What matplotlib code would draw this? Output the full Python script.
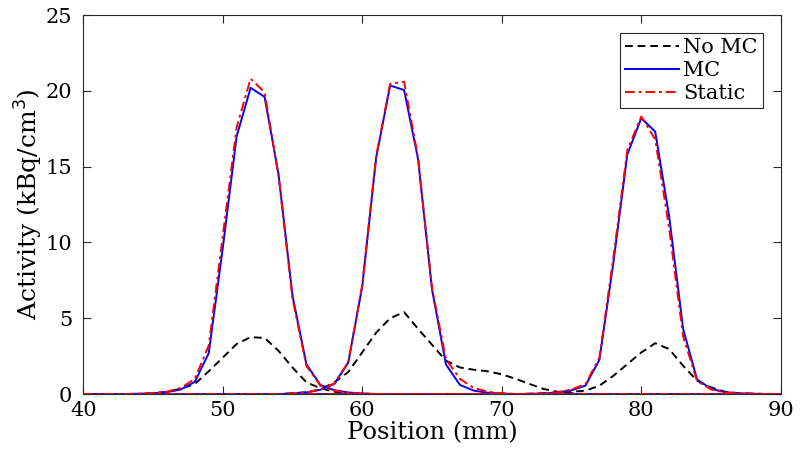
import numpy as np
import matplotlib
matplotlib.use("Agg")
import matplotlib.pyplot as plt

# full position grid (mm), one sample per mm
position = np.arange(40, 91)

# each source profile only read where it is non-zero; zero elsewhere
win1 = np.arange(44, 61)
nomc1 = [0.0, 0.05, 0.15, 0.35, 0.66, 1.5, 2.4, 3.3, 3.75, 3.7, 2.85, 1.75, 0.77, 0.38, 0.15, 0.04, 0.0]
mc1 = [0.02, 0.05, 0.12, 0.3, 0.8, 2.7, 9.6, 17.0, 20.2, 19.6, 14.5, 6.5, 1.95, 0.6, 0.25, 0.1, 0.04]
static1 = [0.02, 0.06, 0.15, 0.4, 1.0, 3.2, 10.4, 17.6, 20.8, 19.9, 14.4, 6.3, 1.85, 0.55, 0.22, 0.08, 0.03]

win2 = np.arange(54, 77)
nomc2 = [0.0, 0.05, 0.12, 0.3, 0.77, 1.45, 2.75, 4.05, 5.0, 5.4, 4.3, 3.25, 2.2, 1.75, 1.6, 1.5, 1.3,
         1.0, 0.66, 0.33, 0.15, 0.05, 0.0]
mc2 = [0.0, 0.03, 0.1, 0.28, 0.66, 2.08, 7.1, 15.6, 20.35, 20.05, 15.5, 6.9, 1.95, 0.6, 0.22, 0.08, 0.03,
       0.0, 0.0, 0.0, 0.0, 0.0, 0.0]
static2 = [0.0, 0.03, 0.1, 0.3, 0.7, 2.1, 7.2, 15.7, 20.45, 20.6, 15.6, 7.0, 2.3, 1.0, 0.4, 0.15, 0.05,
           0.0, 0.0, 0.0, 0.0, 0.0, 0.0]

win3 = np.arange(71, 90)
nomc3 = [0.0, 0.02, 0.05, 0.1, 0.15, 0.22, 0.55, 1.2, 1.97, 2.74, 3.35, 2.96, 1.86, 0.88, 0.44, 0.15,
         0.05, 0.02, 0.0]
mc3 = [0.0, 0.01, 0.03, 0.1, 0.25, 0.55, 2.26, 8.66, 15.8, 18.2, 17.3, 11.7, 4.3, 0.95, 0.35, 0.12,
       0.05, 0.02, 0.0]
static3 = [0.0, 0.01, 0.03, 0.12, 0.3, 0.65, 2.4, 9.0, 16.1, 18.3, 16.8, 10.9, 3.8, 0.85, 0.3, 0.1,
           0.04, 0.01, 0.0]


def full_profile(win, vals):
    prof = np.zeros(len(position))
    prof[np.searchsorted(position, win)] = vals
    return prof


series = [
    ("No MC", "black", (0, (4, 2.5)), [(win1, nomc1), (win2, nomc2), (win3, nomc3)]),
    ("MC", "#0000ff", "-", [(win1, mc1), (win2, mc2), (win3, mc3)]),
    ("Static", "#ff0000", (0, (5, 2, 1.5, 2)), [(win1, static1), (win2, static2), (win3, static3)]),
]

plt.rcParams["font.family"] = "DejaVu Serif"

fig = plt.figure(figsize=(8, 4.59), dpi=100)
ax = fig.add_axes([0.104, 0.1416, 0.872, 0.8257])

for label, color, ls, parts in series:
    for k, (win, vals) in enumerate(parts):
        ax.plot(position, full_profile(win, vals), color=color, linestyle=ls, lw=1.4,
                label=label if k == 0 else None)

ax.set_xlim(40, 90)
ax.set_ylim(0, 25)
ax.set_xticks(np.arange(40, 91, 10))
ax.set_yticks(np.arange(0, 26, 5))
ax.tick_params(direction="in", top=True, right=True, length=6, width=0.8,
               color="#262626", labelsize=15)
ax.tick_params(axis="x", pad=5)
ax.tick_params(axis="y", pad=8)
for sp in ax.spines.values():
    sp.set_color("#262626")
    sp.set_linewidth(0.8)

ax.set_xlabel("Position (mm)", fontsize=17.5, labelpad=1)
ax.set_ylabel("Activity (kBq/cm$^3$)", fontsize=18, labelpad=0)

leg = ax.legend(loc="upper right", fontsize=15, fancybox=False, framealpha=1,
                edgecolor="#262626", handlelength=2.6, handletextpad=0.2,
                borderpad=0.25, labelspacing=0.2, borderaxespad=0.85)
leg.get_frame().set_linewidth(0.8)

fig.savefig("out.png", dpi=100)
